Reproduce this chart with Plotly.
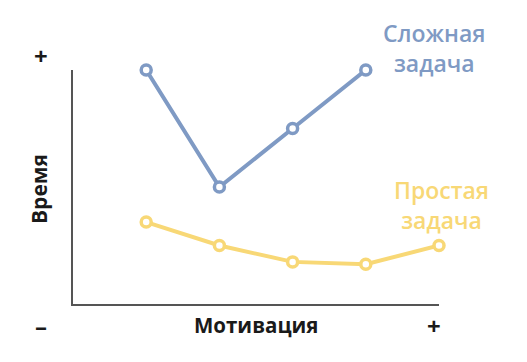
import plotly.graph_objects as go

motivation = [1, 2, 3, 4, 5]
hard_task = [10.0, 5.0, 7.5, 10.0]
easy_task = [3.5, 2.5, 1.8, 1.7, 2.5]

BLUE = "#7f9ac4"
YELLOW = "#f8d876"
FONT = "Open Sans"

fig = go.Figure()
fig.add_trace(go.Scatter(
    x=motivation[:len(hard_task)], y=hard_task, mode="lines+markers",
    line=dict(color=BLUE, width=4),
    marker=dict(symbol="circle", size=10, color="white", line=dict(color=BLUE, width=3.5)),
    cliponaxis=False, hoverinfo="skip"))
fig.add_trace(go.Scatter(
    x=motivation, y=easy_task, mode="lines+markers",
    line=dict(color=YELLOW, width=4),
    marker=dict(symbol="circle", size=10, color="white", line=dict(color=YELLOW, width=3.5)),
    cliponaxis=False, hoverinfo="skip"))

OFF = 8  # page body margin
W, H = 527 - OFF, 362 - OFF
PL, PR, PT, PB = 73, 439, 70, 304  # plot area in page pixels
L, T = PL - OFF, PT - OFF
R, B = W - (PR - OFF), H - (PB - OFF)
pw, ph = W - L - R, H - T - B

def px(x):
    return (x - PL) / pw

def py(y):
    return (PB - y) / ph

annotations = [
    dict(x=px(434), y=py(48), text="Сложная<br>задача", font=dict(color=BLUE, size=23, family=FONT, weight=600)),
    dict(x=px(441), y=py(205), text="Простая<br>задача", font=dict(color=YELLOW, size=23, family=FONT, weight=600)),
    dict(x=px(39), y=py(189), text="Время", textangle=-90, font=dict(color="#1a1a1a", size=21, family=FONT, weight=700)),
    dict(x=px(256), y=py(325), text="Мотивация", font=dict(color="#1a1a1a", size=20.5, family=FONT, weight=700)),
    dict(x=px(41), y=py(325), text="–", font=dict(color="#1a1a1a", size=24, family=FONT, weight=700)),
    dict(x=px(434), y=py(325), text="+", font=dict(color="#1a1a1a", size=24, family=FONT, weight=700)),
    dict(x=px(41), y=py(55), text="+", font=dict(color="#1a1a1a", size=24, family=FONT, weight=700)),
]
for a in annotations:
    a.update(xref="paper", yref="paper", showarrow=False, xanchor="center", yanchor="middle", align="center")

fig.update_layout(
    width=W, height=H,
    margin=dict(l=L, r=R, t=T, b=B),
    paper_bgcolor="white", plot_bgcolor="white",
    showlegend=False,
    annotations=annotations,
    xaxis=dict(range=[0, 5], showgrid=False, zeroline=False, showticklabels=False, ticks="",
               showline=True, linecolor="#555555", linewidth=1.5, fixedrange=True),
    yaxis=dict(range=[0, 10], showgrid=False, zeroline=False, showticklabels=False, ticks="",
               showline=True, linecolor="#555555", linewidth=1.5, fixedrange=True),
)

fig.write_html("out.html", config={"displayModeBar": False})
